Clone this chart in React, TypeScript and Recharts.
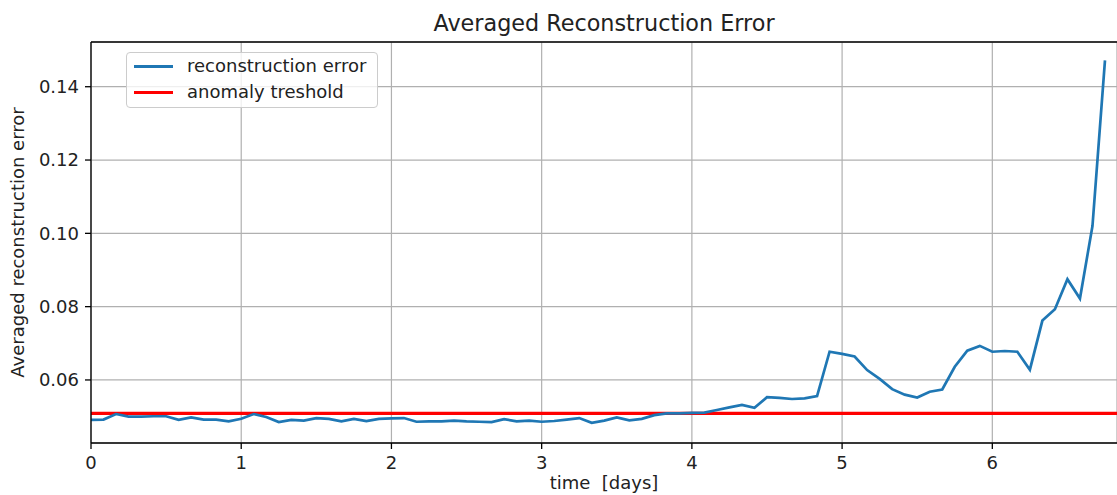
import { LineChart, Line, XAxis, YAxis, CartesianGrid, ReferenceLine, Legend } from "recharts"

// sample times in hours (every 2h)
const HOURS = [
  0, 2, 4, 6, 8, 10, 12, 14, 16, 18, 20, 22,
  24, 26, 28, 30, 32, 34, 36, 38, 40, 42, 44, 46,
  48, 50, 52, 54, 56, 58, 60, 62, 64, 66, 68, 70,
  72, 74, 76, 78, 80, 82, 84, 86, 88, 90, 92, 94,
  96, 98, 100, 102, 104, 106, 108, 110, 112, 114, 116, 118,
  120, 122, 124, 126, 128, 130, 132, 134, 136, 138, 140, 142,
  144, 146, 148, 150, 152, 154, 156, 158, 160, 162,
]

const RECON_ERROR = [
  0.0491, 0.0492, 0.0507, 0.05, 0.05, 0.0501, 0.0501, 0.0491, 0.0498, 0.0492, 0.0492, 0.0487,
  0.0494, 0.0507, 0.0499, 0.0485, 0.0491, 0.0489, 0.0496, 0.0494, 0.0487, 0.0494, 0.0488, 0.0494,
  0.0495, 0.0496, 0.0486, 0.0487, 0.0487, 0.0489, 0.0487, 0.0486, 0.0485, 0.0493, 0.0487, 0.0489,
  0.0486, 0.0488, 0.0492, 0.0496, 0.0483, 0.0489, 0.0498, 0.049, 0.0494, 0.0504, 0.0509, 0.0509,
  0.051, 0.0511, 0.0518, 0.0525, 0.0532, 0.0524, 0.0553, 0.0551, 0.0548, 0.055, 0.0556, 0.0677,
  0.0671, 0.0664, 0.0627, 0.0603, 0.0575, 0.056, 0.0552, 0.0568, 0.0574, 0.0636, 0.068, 0.0693,
  0.0677, 0.0679, 0.0677, 0.0628, 0.0762, 0.0793, 0.0875, 0.0822, 0.102, 0.1472,
]

const THRESHOLD = 0.0509

const X_TICKS = [0, 1, 2, 3, 4, 5, 6]
const Y_TICKS = [0.06, 0.08, 0.1, 0.12, 0.14]
const Y_MIN = 0.0428
const Y_MAX = 0.1522

const FONT = "'DejaVu Sans', sans-serif"
const BLUE = "#1f77b4"
const RED = "#ff0000"

const data = HOURS.map((h, i) => ({ t: h / 24, v: RECON_ERROR[i] }))

function LegendBox() {
  const rows = [
    { label: "reconstruction error", color: BLUE },
    { label: "anomaly treshold", color: RED },
  ]
  return (
    <div
      style={{
        width: 250,
        height: 54,
        border: "1px solid #cccccc",
        borderRadius: 4,
        background: "rgba(255,255,255,0.8)",
        fontFamily: FONT,
        fontSize: 18,
        color: "#222",
      }}
    >
      {rows.map((r) => (
        <div key={r.label} style={{ display: "flex", alignItems: "center", height: 26 }}>
          <div style={{ width: 39, height: 3, background: r.color, marginLeft: 7, marginRight: 14 }} />
          <span style={{ lineHeight: "26px" }}>{r.label}</span>
        </div>
      ))}
    </div>
  )
}

export default function App() {
  return (
    <div style={{ position: "absolute", left: 0, top: 0, background: "#fff" }}>
      <LineChart width={1117} height={495} data={data} margin={{ top: 42, right: 0, bottom: 0, left: 0 }}>
        <CartesianGrid stroke="#b0b0b0" strokeWidth={1.2} />
        <XAxis
          dataKey="t"
          type="number"
          domain={[0, 6.83]}
          ticks={X_TICKS}
          allowDataOverflow
          height={52}
          axisLine={{ stroke: "#000", strokeWidth: 1.3 }}
          tickLine={{ stroke: "#000", strokeWidth: 1.3 }}
          tickSize={6}
          tickMargin={7}
          tick={{ fontFamily: FONT, fontSize: 18, fill: "#222" }}
          label={{
            value: "time\u00a0 [days]",
            position: "insideBottom",
            offset: 6,
            style: { fontFamily: FONT, fontSize: 18, fill: "#222" },
          }}
        />
        <YAxis
          type="number"
          domain={[Y_MIN, Y_MAX]}
          ticks={Y_TICKS}
          allowDataOverflow
          width={91}
          axisLine={{ stroke: "#000", strokeWidth: 1.3 }}
          tickLine={{ stroke: "#000", strokeWidth: 1.3 }}
          tickSize={6}
          tickMargin={6}
          tickFormatter={(v: number) => v.toFixed(2)}
          tick={{ fontFamily: FONT, fontSize: 18, fill: "#222" }}
          label={{
            value: "Averaged reconstruction error",
            angle: -90,
            position: "insideLeft",
            offset: 18,
            textAnchor: "middle",
            style: { fontFamily: FONT, fontSize: 18, fill: "#222", textAnchor: "middle" },
          }}
        />
        {/* top frame line, carries the title */}
        <ReferenceLine
          y={Y_MAX}
          stroke="#000"
          strokeWidth={1.3}
          label={{
            value: "Averaged Reconstruction Error",
            position: "top",
            offset: 11,
            style: { fontFamily: FONT, fontSize: 22.3, fill: "#222" },
          }}
        />
        <ReferenceLine y={THRESHOLD} stroke={RED} strokeWidth={3.3} ifOverflow="hidden" />
        <Line
          type="linear"
          dataKey="v"
          stroke={BLUE}
          strokeWidth={2.7}
          dot={false}
          isAnimationActive={false}
        />
        <Legend
          layout="vertical"
          align="center"
          verticalAlign="middle"
          content={() => <LegendBox />}
          wrapperStyle={{ left: 126, top: 52, width: 252, height: 56 }}
        />
      </LineChart>
    </div>
  )
}
